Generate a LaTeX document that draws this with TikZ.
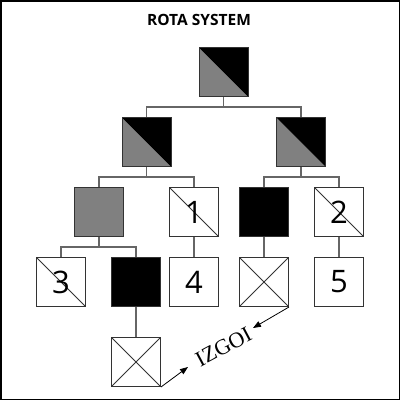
\documentclass[tikz,border=0pt]{standalone}
\usepackage{fontspec}
\setmainfont{Open Sans}
\newfontfamily\serifz{Liberation Serif}
\usetikzlibrary{arrows.meta}
\definecolor{boxline}{HTML}{333333}
\definecolor{conn}{HTML}{666666}
\definecolor{half}{HTML}{808080}
\tikzset{
  kbox/.style={minimum size=49pt, inner sep=0pt, draw=boxline, line width=1pt},
  halfbox/.style={kbox, path picture={
      \fill[half] (path picture bounding box.north west) -- (path picture bounding box.south west) -- (path picture bounding box.south east) -- cycle;
      \fill[black] (path picture bounding box.north west) -- (path picture bounding box.north east) -- (path picture bounding box.south east) -- cycle;}},
  graybox/.style={kbox, fill=half},
  blackbox/.style={kbox, fill=black},
  numbox/.style={kbox, fill=white, font=\fontsize{31}{31}\selectfont, path picture={
      \draw[boxline, line width=0.8pt] (path picture bounding box.north west) -- (path picture bounding box.south east);}},
  plainbox/.style={kbox, fill=white, font=\fontsize{31}{31}\selectfont},
  xbox/.style={kbox, fill=white, path picture={
      \draw[boxline, line width=0.8pt] (path picture bounding box.north west) -- (path picture bounding box.south east)
        (path picture bounding box.north east) -- (path picture bounding box.south west);}},
  link/.style={draw=conn, line width=1.2pt},
  arr/.style={draw=black, line width=0.8pt, -{Triangle[length=8pt,width=6pt]}}
}
\begin{document}
\begin{tikzpicture}[x=1pt,y=-1pt]
\useasboundingbox (0,0) rectangle (400,400);
\draw[black, line width=1.5pt] (0.75,0.75) rectangle (399.25,399.25);
\node[font=\fontsize{15.5}{15.5}\selectfont\bfseries] (title) at (199,20) {ROTA SYSTEM};
% boxes
\node[halfbox] (t) at (223.5,72) {};
\node[halfbox] (a) at (146.5,142) {};
\node[halfbox] (b) at (301,142) {};
\node[graybox] (a1) at (99,212) {};
\node[numbox] (a2) at (194,212) {1};
\node[blackbox] (b1) at (264,212) {};
\node[numbox] (b2) at (339,212) {2};
\node[numbox] (c1) at (61,282) {3};
\node[blackbox] (c2) at (136,282) {};
\node[plainbox] (c3) at (194,282) {4};
\node[xbox] (c4) at (264,282) {};
\node[plainbox] (c5) at (339,282) {5};
\node[xbox] (d1) at (136,362) {};
% connectors
\draw[link] (t.south) -- ++(0,10) -| (a.north);
\draw[link] (t.south) -- ++(0,10) -| (b.north);
\draw[link] (a.south) -- ++(0,10) -| (a1.north);
\draw[link] (a.south) -- ++(0,10) -| (a2.north);
\draw[link] (b.south) -- ++(0,10) -| (b1.north);
\draw[link] (b.south) -- ++(0,10) -| (b2.north);
\draw[link] (a1.south) -- ++(0,10) -| (c1.north);
\draw[link] (a1.south) -- ++(0,10) -| (c2.north);
\draw[link] (a2.south) -- (c3.north);
\draw[link] (b1.south) -- (c4.north);
\draw[link] (b2.south) -- (c5.north);
\draw[link] (c2.south) -- (d1.north);
% arrows and label
\coordinate (e1) at (188,367);
\coordinate (e2) at (253,328);
\draw[arr] (d1.south east) -- (e1);
\draw[arr] (c4.south east) -- (e2);
\node[font=\serifz\fontsize{22}{22}\selectfont, rotate=28, inner sep=0pt] (lbl) at (223.5,347) {IZGOI};
\end{tikzpicture}
\end{document}
